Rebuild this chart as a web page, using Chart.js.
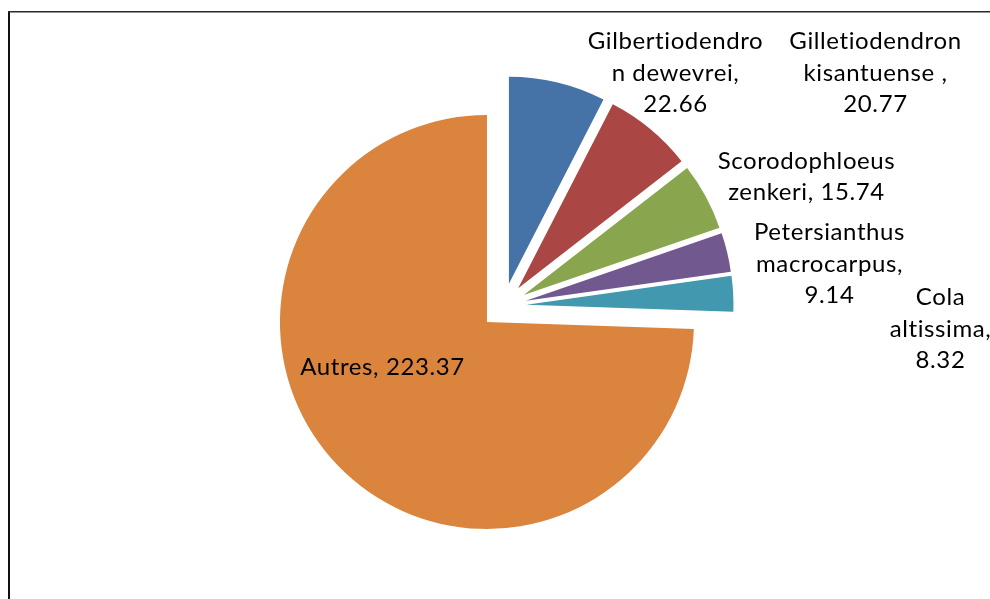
<!DOCTYPE html>
<html>
<head>
<meta charset="utf-8">
<script src="https://cdn.jsdelivr.net/npm/chart.js@4"></script>
<style>
  html, body { margin: 0; padding: 0; background: #fff; }
  #wrap { width: 990px; height: 599px; }
</style>
</head>
<body>
<div id="wrap"><canvas id="pieChart" width="990" height="599"></canvas></div>
<script>
// species and basal area values
const categories = ['Gilbertiodendron dewevrei', 'Gilletiodendron kisantuense ', 'Scorodophloeus zenkeri',
                    'Petersianthus macrocarpus', 'Cola altissima', 'Autres'];
const values = [22.66, 20.77, 15.74, 9.14, 8.32, 223.37];
const colors = ['#4572A7', '#AA4643', '#89A54E', '#71588F', '#4198AF', '#DB843D'];

// label layout: centre of each text block relative to the pie centre, and wrap width
const labelOffsets = [[172, -234], [372, -234], [303, -130], [326, -43], [437, 22], [-121, 60]];
const labelWidths = [185, 185, 185, 185, 130, 185];

const explode = 23;       // every slice pulled out from the centre
const fontSize = 24;
const lineHeight = 31.5;
const labelFont = fontSize + 'px Lato, "Open Sans", sans-serif';

// greedy word wrap, long words are cut where they hit the width
function wrapText(ctx, text, maxWidth) {
    const words = text.split(' ');
    const lines = [];
    let line = '';
    words.forEach((word) => {
        let test = line ? line + ' ' + word : word;
        if (ctx.measureText(test).width <= maxWidth) {
            line = test;
            return;
        }
        if (line) lines.push(line);
        line = word;
        while (ctx.measureText(line).width > maxWidth) {
            let cut = line.length - 1;
            while (cut > 1 && ctx.measureText(line.slice(0, cut)).width > maxWidth) cut--;
            lines.push(line.slice(0, cut));
            line = line.slice(cut);
        }
    });
    if (line) lines.push(line);
    return lines;
}

const explodePlugin = {
    id: 'explode',
    beforeDatasetDraw(chart, args) {
        const area = chart.chartArea;
        const cx = (area.left + area.right) / 2;
        const cy = (area.top + area.bottom) / 2;
        args.meta.data.forEach((arc) => {
            const mid = (arc.startAngle + arc.endAngle) / 2;
            arc.x = cx + Math.cos(mid) * explode;
            arc.y = cy + Math.sin(mid) * explode;
        });
    }
};

const framePlugin = {
    id: 'frame',
    beforeDraw(chart) {
        const ctx = chart.ctx;
        ctx.save();
        ctx.fillStyle = '#111';
        ctx.fillRect(8, 11, 2, chart.height);
        ctx.fillStyle = '#2a2a2a';
        ctx.fillRect(8, 11, chart.width, 1.5);
        ctx.restore();
    }
};

const labelPlugin = {
    id: 'sliceLabels',
    afterDatasetsDraw(chart) {
        const ctx = chart.ctx;
        const area = chart.chartArea;
        const cx = (area.left + area.right) / 2;
        const cy = (area.top + area.bottom) / 2;
        ctx.save();
        ctx.font = labelFont;
        ctx.letterSpacing = '0.6px';   // also stops the "ti" ligature
        ctx.fillStyle = '#000';
        ctx.textAlign = 'center';
        ctx.textBaseline = 'alphabetic';
        categories.forEach((name, i) => {
            const text = name + ', ' + values[i].toFixed(2);
            const lines = wrapText(ctx, text, labelWidths[i]);
            const x = cx + labelOffsets[i][0];
            const y = cy + labelOffsets[i][1];
            lines.forEach((ln, j) => {
                const rowMid = y + (j - (lines.length - 1) / 2) * lineHeight;
                ctx.fillText(ln, x, rowMid + 0.36 * fontSize);
            });
        });
        ctx.restore();
    }
};

new Chart(document.getElementById('pieChart'), {
    type: 'pie',
    data: {
        labels: categories,
        datasets: [{
            data: values,
            backgroundColor: colors,
            borderWidth: 0
        }]
    },
    options: {
        responsive: false,
        animation: false,
        devicePixelRatio: 1,
        events: [],
        radius: 207,
        layout: {
            padding: { left: 250, right: 233, top: 50, bottom: 37 }
        },
        plugins: {
            legend: { display: false },
            tooltip: { enabled: false }
        }
    },
    plugins: [framePlugin, explodePlugin, labelPlugin]
});
</script>
</body>
</html>
